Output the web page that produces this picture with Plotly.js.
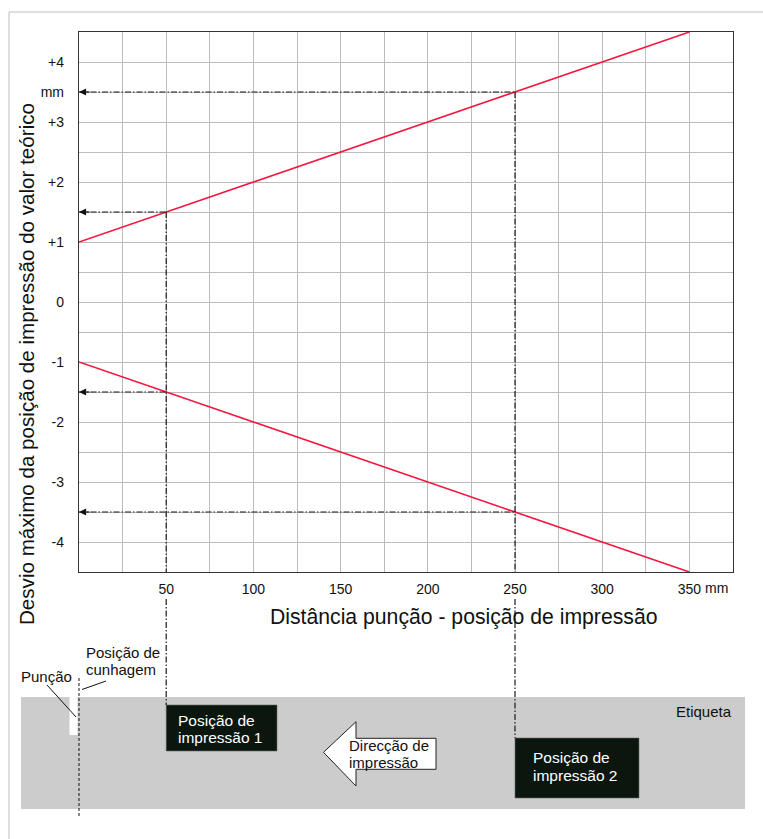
<!DOCTYPE html>
<html>
<head>
<meta charset="utf-8">
<script src="https://cdn.plot.ly/plotly-3.0.1.min.js"></script>
<style>html,body{margin:0;padding:0;background:#fff;}#chart{width:763px;height:839px;}</style>
</head>
<body>
<div id="chart"></div>
<script>
// ---- data ----
const distance = [0, 350];                 // mm
const upperLimit = [1, 4.5];               // mm
const lowerLimit = [-1, -4.5];             // mm
const printPositions = [50, 250];          // mm
const upperAtPositions = [1.5, 3.5];
const lowerAtPositions = [-1.5, -3.5];
const xTickVals = [50, 100, 150, 200, 250, 300, 350];
const xTickText = ['50', '100', '150', '200', '250', '300', '350'];
const yTickVals = [-4, -3, -2, -1, 0, 1, 2, 3, 3.5, 4];
const yTickText = ['-4', '-3', '-2', '-1', '0', '+1', '+2', '+3', 'mm', '+4'];
const xRange = [0, 375];
const yRange = [-4.5, 4.5];

// ---- layout geometry ----
const W = 763, H = 839;
const M = {l: 79, r: 30, t: 32, b: 267};
const PW = W - M.l - M.r, PH = H - M.t - M.b;
const px = v => (v - M.l) / PW;            // pixel x -> paper x
const py = v => (H - M.b - v) / PH;        // pixel y -> paper y
const dx = v => (v - xRange[0]) / (xRange[1] - xRange[0]);
const dy = v => (v - yRange[0]) / (yRange[1] - yRange[0]);

const FONT = 'Liberation Sans, Arial, sans-serif';
const DASHDOT = '6px,2px,1.5px,2px';
const red = '#f4173f';

const traces = [
  {x: distance, y: upperLimit, mode: 'lines', line: {color: red, width: 1.6}, hoverinfo: 'skip'},
  {x: distance, y: lowerLimit, mode: 'lines', line: {color: red, width: 1.6}, hoverinfo: 'skip'}
];

const shapes = [];
const annotations = [];

// outer frame
shapes.push({type: 'rect', xref: 'paper', yref: 'paper', x0: px(9), x1: px(800), y0: py(12), y1: py(900),
  line: {color: '#bdbdbd', width: 1}, layer: 'below'});
// label band (Etiqueta)
shapes.push({type: 'rect', xref: 'paper', yref: 'paper', x0: px(21), x1: px(745), y0: py(697), y1: py(809),
  fillcolor: '#cccccc', line: {width: 0}, layer: 'below'});
// punch notch
shapes.push({type: 'rect', xref: 'paper', yref: 'paper', x0: px(69.5), x1: px(77.5), y0: py(697), y1: py(735),
  fillcolor: '#ffffff', line: {width: 0}});
// coining position line
shapes.push({type: 'line', xref: 'paper', yref: 'paper', x0: dx(0), x1: dx(0), y0: py(678), y1: py(817),
  line: {color: '#111', width: 1, dash: '3px,2px'}});
// leaders
shapes.push({type: 'line', xref: 'paper', yref: 'paper', x0: px(47), y0: py(685), x1: px(76), y1: py(717),
  line: {color: '#111', width: 1}});
shapes.push({type: 'line', xref: 'paper', yref: 'paper', x0: px(82), y0: py(689.5), x1: px(106), y1: py(681),
  line: {color: '#111', width: 1}});

// print position boxes
const boxTops = [py(705), py(738)];
const boxBottoms = [py(751), py(798)];
const boxRights = [px(277), px(639)];
printPositions.forEach((p, i) => {
  shapes.push({type: 'rect', xref: 'paper', yref: 'paper', x0: dx(p), x1: boxRights[i], y0: boxBottoms[i], y1: boxTops[i],
    fillcolor: '#0b170e', line: {color: '#666', width: 0.6}});
});

// direction arrow
const ax = [px(323.5), px(356), px(436)];
const ay = [py(752.3), py(721.7), py(738.3), py(769.3), py(786)];
shapes.push({type: 'path', xref: 'paper', yref: 'paper',
  path: `M${ax[0]},${ay[0]} L${ax[1]},${ay[1]} L${ax[1]},${ay[2]} L${ax[2]},${ay[2]} L${ax[2]},${ay[3]} L${ax[1]},${ay[3]} L${ax[1]},${ay[4]} Z`,
  fillcolor: '#ffffff', line: {color: '#222', width: 1}});

// guide lines (dash-dot) + arrowheads
const belowLabelsTop = py(599);
printPositions.forEach((p, i) => {
  [upperAtPositions[i], lowerAtPositions[i]].forEach(v => {
    shapes.push({type: 'line', xref: 'x', yref: 'y', x0: xRange[0], x1: p, y0: v, y1: v,
      line: {color: '#1a1a1a', width: 1.2, dash: DASHDOT}});
    annotations.push({x: xRange[0], y: v, xref: 'x', yref: 'y', showarrow: true, text: '',
      ax: 12, ay: 0, arrowhead: 2, arrowsize: 1.3, arrowwidth: 1.1, arrowcolor: '#111', standoff: 0});
  });
  // inside the plot: from the limit value down to the x axis
  shapes.push({type: 'line', xref: 'x', yref: 'y', x0: p, x1: p, y0: upperAtPositions[i], y1: yRange[0],
    line: {color: '#1a1a1a', width: 1.2, dash: DASHDOT}});
  // below the tick labels: down to the print position box
  shapes.push({type: 'line', xref: 'paper', yref: 'paper', x0: dx(p), x1: dx(p), y0: belowLabelsTop, y1: boxTops[i],
    line: {color: '#1a1a1a', width: 1.2, dash: DASHDOT}});
});

// text helper
function addText(lines, xp, yTopPx, lineH, size, color, anchor) {
  lines.forEach((t, k) => {
    annotations.push({xref: 'paper', yref: 'paper', x: xp, y: py(yTopPx + k * lineH), text: t, showarrow: false,
      xanchor: anchor || 'left', yanchor: 'middle', font: {family: FONT, size: size, color: color}});
  });
}
addText(['Punção'], px(19), 676, 17, 15, '#111');
addText(['Posição de', 'cunhagem'], px(84), 652, 17, 15, '#111');
addText(['Posição de', 'impressão 1'], px(175.5), 720, 17.5, 15.5, '#ffffff');
addText(['Posição de', 'impressão 2'], px(530.5), 757, 18, 15.5, '#ffffff');
addText(['Direcção de', 'impressão'], px(346.5), 745, 17, 15, '#111');
addText(['Etiqueta'], px(674), 711, 17, 15, '#111');

// axis titles and unit
annotations.push({xref: 'paper', yref: 'paper', x: px(26), y: py(364), textangle: -90, showarrow: false,
  text: 'Desvio máximo da posição de impressão do valor teórico', xanchor: 'center', yanchor: 'middle',
  font: {family: FONT, size: 20.6, color: '#111'}});
annotations.push({xref: 'paper', yref: 'paper', x: px(463), y: py(617), showarrow: false,
  text: 'Distância punção - posição de impressão', xanchor: 'center', yanchor: 'middle',
  font: {family: FONT, size: 21.2, color: '#111'}});
annotations.push({xref: 'x', yref: 'paper', x: 350, y: py(588), xshift: 14, showarrow: false,
  text: 'mm', xanchor: 'left', yanchor: 'middle', font: {family: FONT, size: 14, color: '#111'}});

const layout = {
  width: W, height: H,
  margin: M,
  paper_bgcolor: '#ffffff', plot_bgcolor: '#ffffff',
  showlegend: false,
  font: {family: FONT, size: 14, color: '#111'},
  xaxis: {
    range: xRange, tickmode: 'array', tickvals: xTickVals, ticktext: xTickText,
    showgrid: true, gridcolor: '#bcbcbc', gridwidth: 1, zeroline: false,
    showline: true, mirror: true, linecolor: '#333', linewidth: 1.2,
    ticks: '', ticklabelstandoff: 4,
    minor: {dtick: 25, tick0: 0, showgrid: true, gridcolor: '#bcbcbc', gridwidth: 1},
    tickfont: {family: FONT, size: 14, color: '#111'}, fixedrange: true
  },
  yaxis: {
    range: yRange, tickmode: 'array', tickvals: yTickVals, ticktext: yTickText,
    showgrid: true, gridcolor: '#bcbcbc', gridwidth: 1, zeroline: false,
    showline: true, mirror: true, linecolor: '#333', linewidth: 1.2,
    ticks: '', ticklabelstandoff: 11,
    minor: {dtick: 0.5, tick0: 0, showgrid: true, gridcolor: '#bcbcbc', gridwidth: 1},
    tickfont: {family: FONT, size: 14, color: '#111'}, fixedrange: true
  },
  shapes: shapes,
  annotations: annotations
};

Plotly.newPlot('chart', traces, layout, {displayModeBar: false, staticPlot: true});
</script>
</body>
</html>
